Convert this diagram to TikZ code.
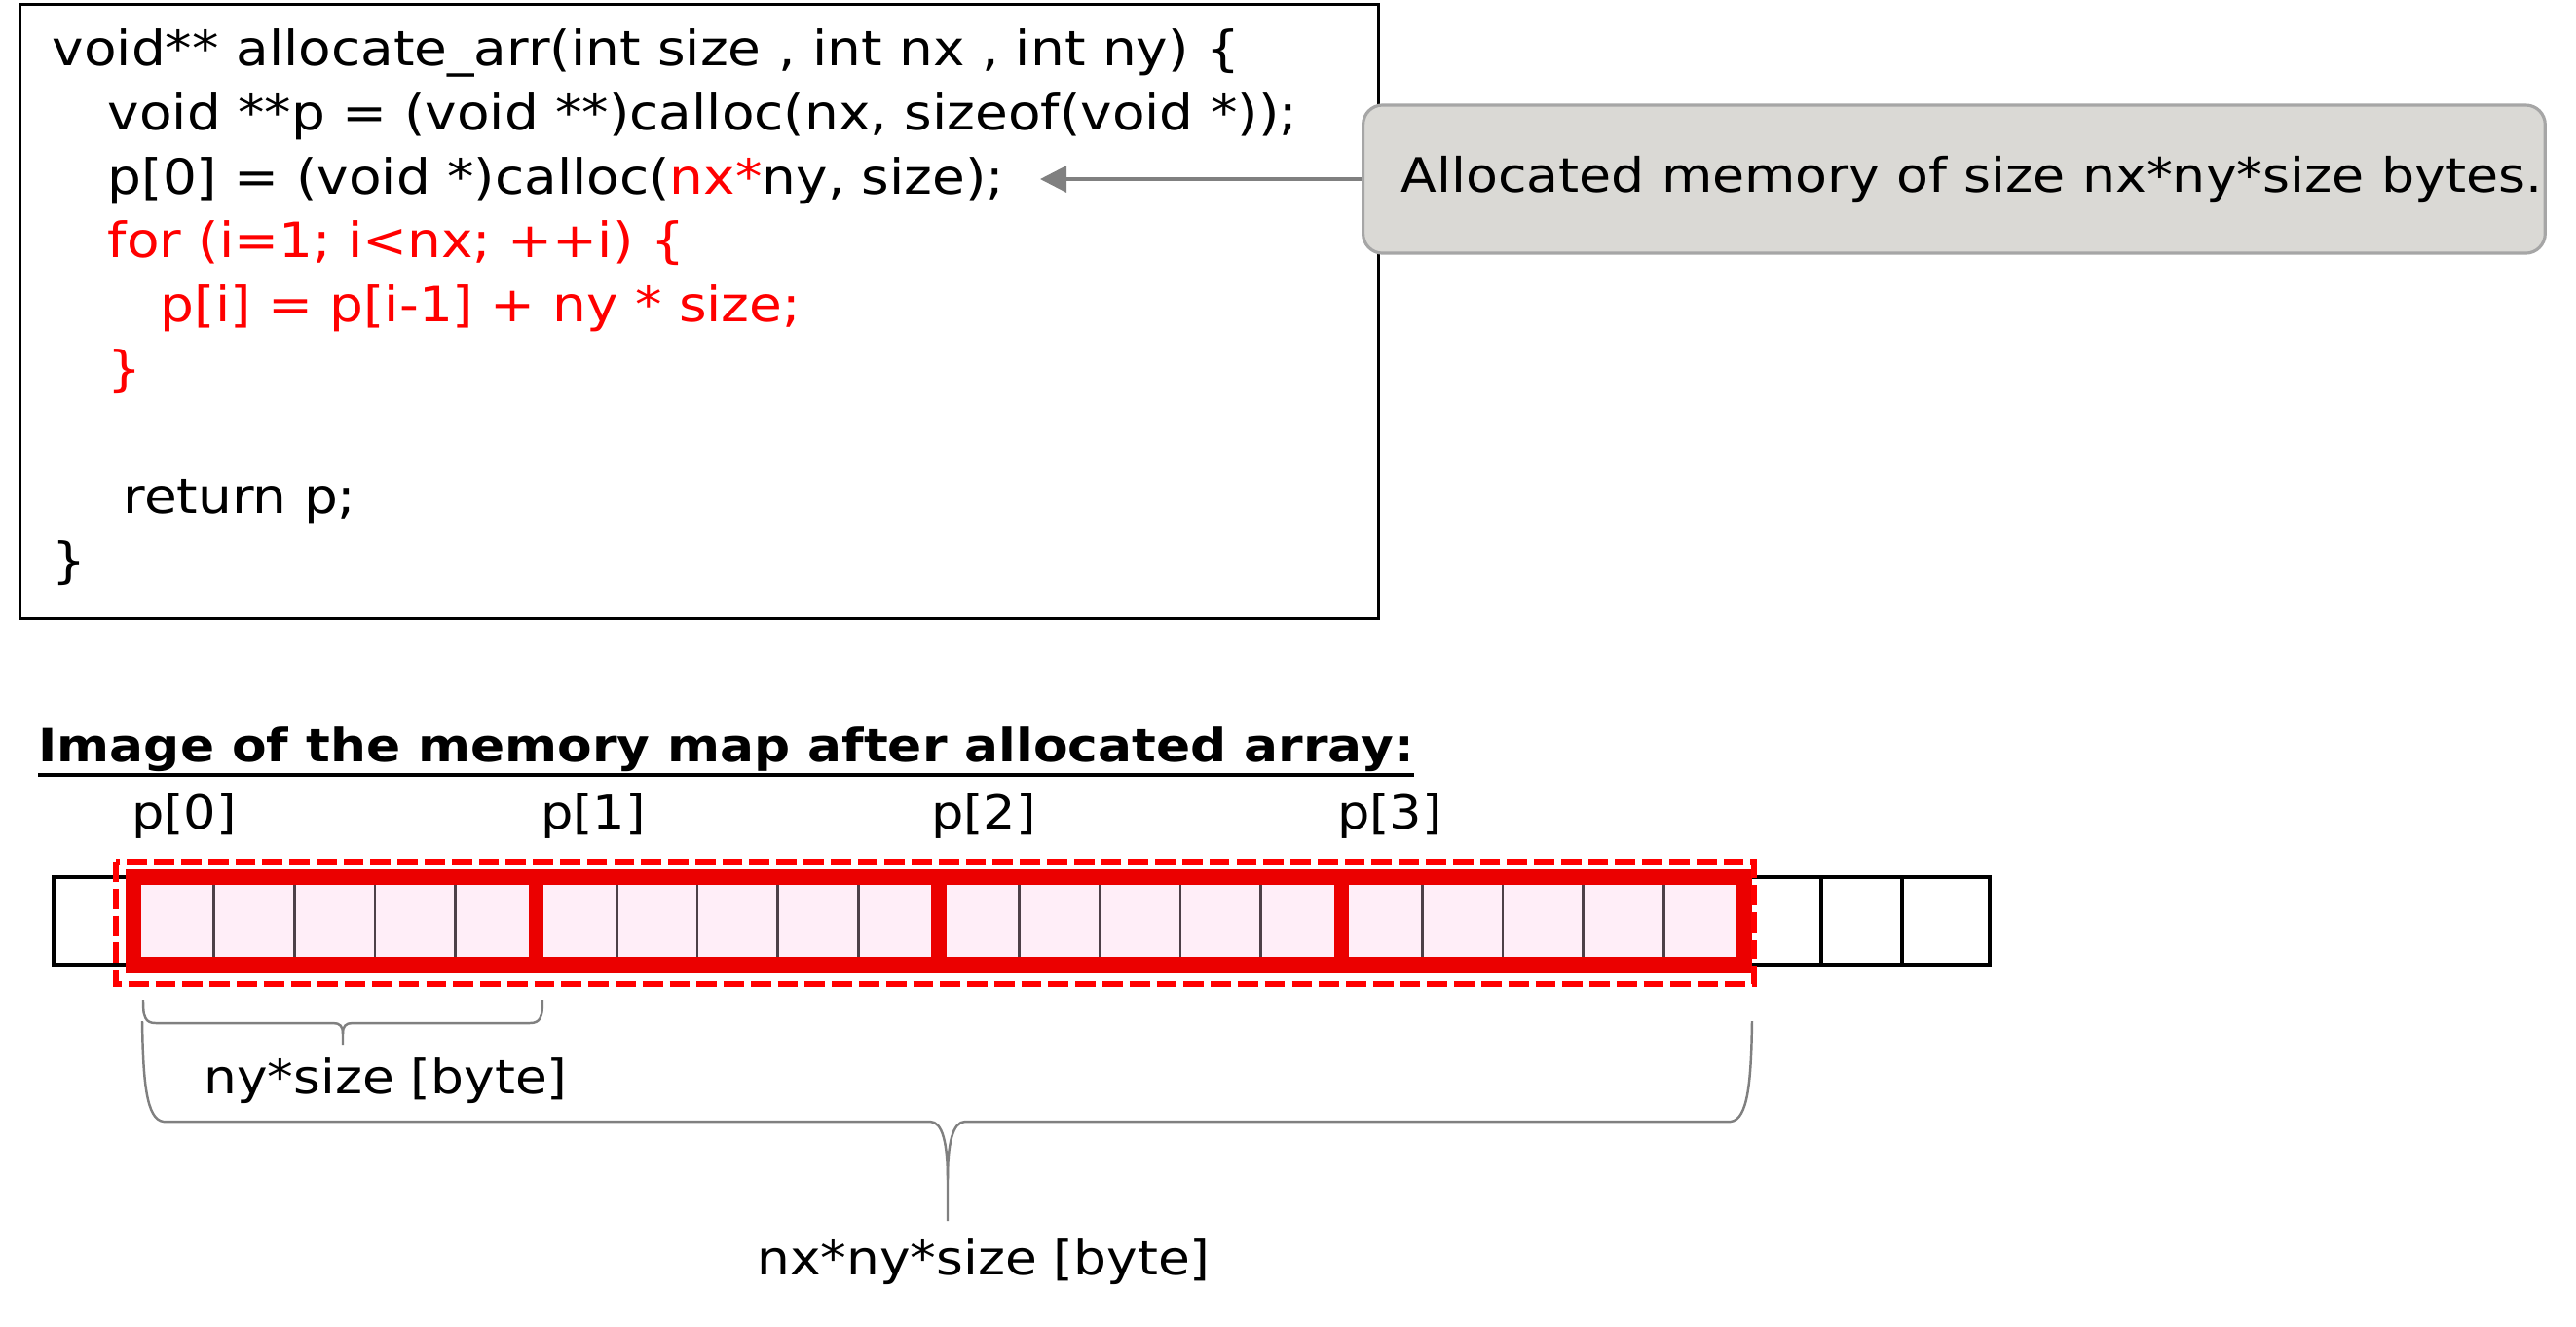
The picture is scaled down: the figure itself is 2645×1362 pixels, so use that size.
\documentclass[tikz,border=0pt]{standalone}
\usepackage{fontspec}
\setmainfont{DejaVu Sans}[FakeStretch=1.1]
\usetikzlibrary{arrows.meta}
\definecolor{codered}{RGB}{255,0,0}
\definecolor{cellred}{RGB}{235,0,0}
\definecolor{cellpink}{RGB}{255,238,248}
\definecolor{divider}{RGB}{77,64,72}
\definecolor{notegray}{RGB}{218,217,213}
\definecolor{noteborder}{RGB}{166,166,166}
\definecolor{bracegray}{RGB}{128,128,128}

\begin{document}
\begin{tikzpicture}[x=0.01cm, y=-0.01cm, >={Triangle[length=0.27cm,width=0.27cm]}]
\tikzset{
  codeline/.style={anchor=base west, inner sep=0pt, font=\fontsize{14.2}{17}\selectfont},
  plabel/.style={inner sep=0pt, font=\fontsize{13.6}{16}\selectfont},
  sizelabel/.style={anchor=base, inner sep=0pt, font=\fontsize{13.8}{16}\selectfont},
  bracepath/.style={draw=bracegray, line width=0.7pt},
  cellbox/.style={draw, line width=0.95pt}
}
\useasboundingbox (0,0) rectangle (2645,1362);

% --- code ---------------------------------------------------------------
\node[draw, line width=0.85pt, minimum width=13.94cm, minimum height=6.31cm,
      anchor=north west, inner sep=0pt] (codebox) at (19,3) {};
\node[codeline] (line1) at (53,67)  {void** allocate\_arr(int size , int nx , int ny) \{};
\node[codeline] (line2) at (110,133) {void **p = (void **)calloc(nx, sizeof(void *));};
\node[codeline] (line3) at (110,199) {p[0] = (void *)calloc(\textcolor{codered}{nx*}ny, size);};
\node[codeline, text=codered] (line4) at (110,264) {for (i=1; i<nx; ++i) \{};
\node[codeline, text=codered] (line5) at (164,330) {p[i] = p[i-1] + ny * size;};
\node[codeline, text=codered] (line6) at (110,396) {\}};
\node[codeline] (line7) at (126,527) {return p;};
\node[codeline] (line8) at (53,593)  {\}};

% --- note ---------------------------------------------------------------
\node[fill=notegray, draw=noteborder, line width=0.9pt, rounded corners=0.2cm,
      anchor=west, minimum height=1.52cm, minimum width=12.13cm, inner xsep=0pt,
      font=\fontsize{13.9}{17}\selectfont] (callout) at (1398,184)
      {\makebox[11.35cm][l]{Allocated memory of size nx*ny*size bytes.}};
\coordinate (target) at (1068,184);
\draw[->, bracegray, line width=0.95pt] (callout.west) -- (target);

% --- memory map ---------------------------------------------------------
\node[anchor=base west, inner sep=0pt, font=\bfseries\fontsize{13.4}{16}\selectfont]
      (heading) at (39,782) {Image of the memory map after allocated array:};
\draw[line width=1.4pt] ([yshift=-0.14cm]heading.base west) -- ([yshift=-0.14cm]heading.base east);

\def\cell{82.7}
\draw[cellbox] (55,901) rectangle (137,991);
\foreach \xa/\xb in {1791/1870,1870/1953,1953/2043}
  \draw[cellbox] (\xa,901) rectangle (\xb,991);
\fill[cellpink] (137,901) rectangle (1791,991);
\foreach \i in {1,...,19}
  \draw[divider, line width=0.75pt] (137+\i*\cell,901) -- (137+\i*\cell,991);
\foreach \g in {0,...,3}
  \draw[cellred, line width=4.4pt] (137+5*\g*\cell,901) rectangle ++(5*\cell,90);
\draw[codered, line width=1.9pt, dash pattern=on 5.9pt off 2pt] (119,885) rectangle (1801,1011);

\foreach \g/\x in {0/189,1/609,2/1010,3/1427}
  \node[plabel] (p\g) at (\x,838) {p[\g]};

% --- braces -------------------------------------------------------------
\draw[bracepath] (147,1027) .. controls (147,1045) and (149,1051) .. (160,1051) -- (342,1051)
  .. controls (349,1051) and (352,1054) .. (352,1062) -- (352,1073);
\draw[bracepath] (557,1027) .. controls (557,1045) and (555,1051) .. (544,1051) -- (362,1051)
  .. controls (355,1051) and (352,1054) .. (352,1062);
\node[sizelabel] (rowsize) at (396,1123) {ny*size [byte]};

\draw[bracepath] (146,1049) .. controls (147,1110) and (150,1150) .. (168,1152) -- (955,1152)
  .. controls (968,1152) and (973,1175) .. (973,1212) -- (973,1254);
\draw[bracepath] (1799,1049) .. controls (1798,1110) and (1795,1150) .. (1777,1152) -- (991,1152)
  .. controls (978,1152) and (973,1175) .. (973,1212);
\node[sizelabel] (totalsize) at (1010,1309) {nx*ny*size [byte]};
\end{tikzpicture}
\end{document}
